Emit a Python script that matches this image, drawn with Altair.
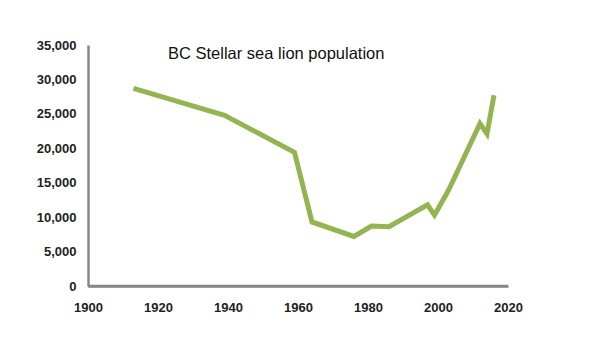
import altair as alt
import pandas as pd

years = [1913, 1939, 1959, 1964, 1976, 1981, 1986, 1997, 1999, 2003, 2012, 2014, 2016]
population = [28700, 24800, 19400, 9300, 7200, 8700, 8600, 11800, 10300, 13900, 23600, 22100, 27700]
x_ticks = [1900, 1920, 1940, 1960, 1980, 2000, 2020]
y_ticks = [0, 5000, 10000, 15000, 20000, 25000, 30000, 35000]
title_text = ["BC Stellar sea lion population"]

df = pd.DataFrame({"year": years, "population": population})
tdf = pd.DataFrame({"t": title_text})

axis_common = dict(
    domainColor="#878787", domainWidth=2.5, ticks=False, grid=False,
    labelFont="Liberation Sans", labelFontWeight="bold", labelFontSize=13,
    labelColor="#222222", title=None, labelFlush=False, labelOverlap=False,
)

xscale = alt.Scale(domain=[x_ticks[0], x_ticks[-1]], nice=False, zero=False)
yscale = alt.Scale(domain=[y_ticks[0], y_ticks[-1]], nice=False)
xaxis = alt.Axis(values=x_ticks, format="d", labelPadding=15, **axis_common)
yaxis = alt.Axis(values=y_ticks, format=",d", labelPadding=12, **axis_common)

baseline = alt.Chart(tdf).mark_rule(color="#878787", strokeWidth=2.5).encode(
    x=alt.XDatum(x_ticks[0], type="quantitative", scale=xscale, axis=xaxis),
    x2=alt.X2Datum(x_ticks[-1]),
    y=alt.YDatum(y_ticks[0], type="quantitative", scale=yscale, axis=yaxis),
)

line = alt.Chart(df).mark_line(color="#92b551", strokeWidth=5).encode(
    x=alt.X("year:Q", scale=xscale, axis=xaxis),
    y=alt.Y("population:Q", scale=yscale, axis=yaxis),
)

title = alt.Chart(tdf).mark_text(
    align="left", baseline="alphabetic", font="Liberation Sans", fontSize=16.5, color="#111111"
).encode(x=alt.value(80), y=alt.value(14), text="t:N")

chart = alt.layer(baseline, line, title).properties(
    width=420, height=241,
    autosize=alt.AutoSizeParams(type="none"),
    padding={"left": 80, "top": 37, "right": 60, "bottom": 45},
).configure(background="white").configure_view(stroke=None)

chart.save("out.html", embed_options={"renderer": "svg", "actions": False})
